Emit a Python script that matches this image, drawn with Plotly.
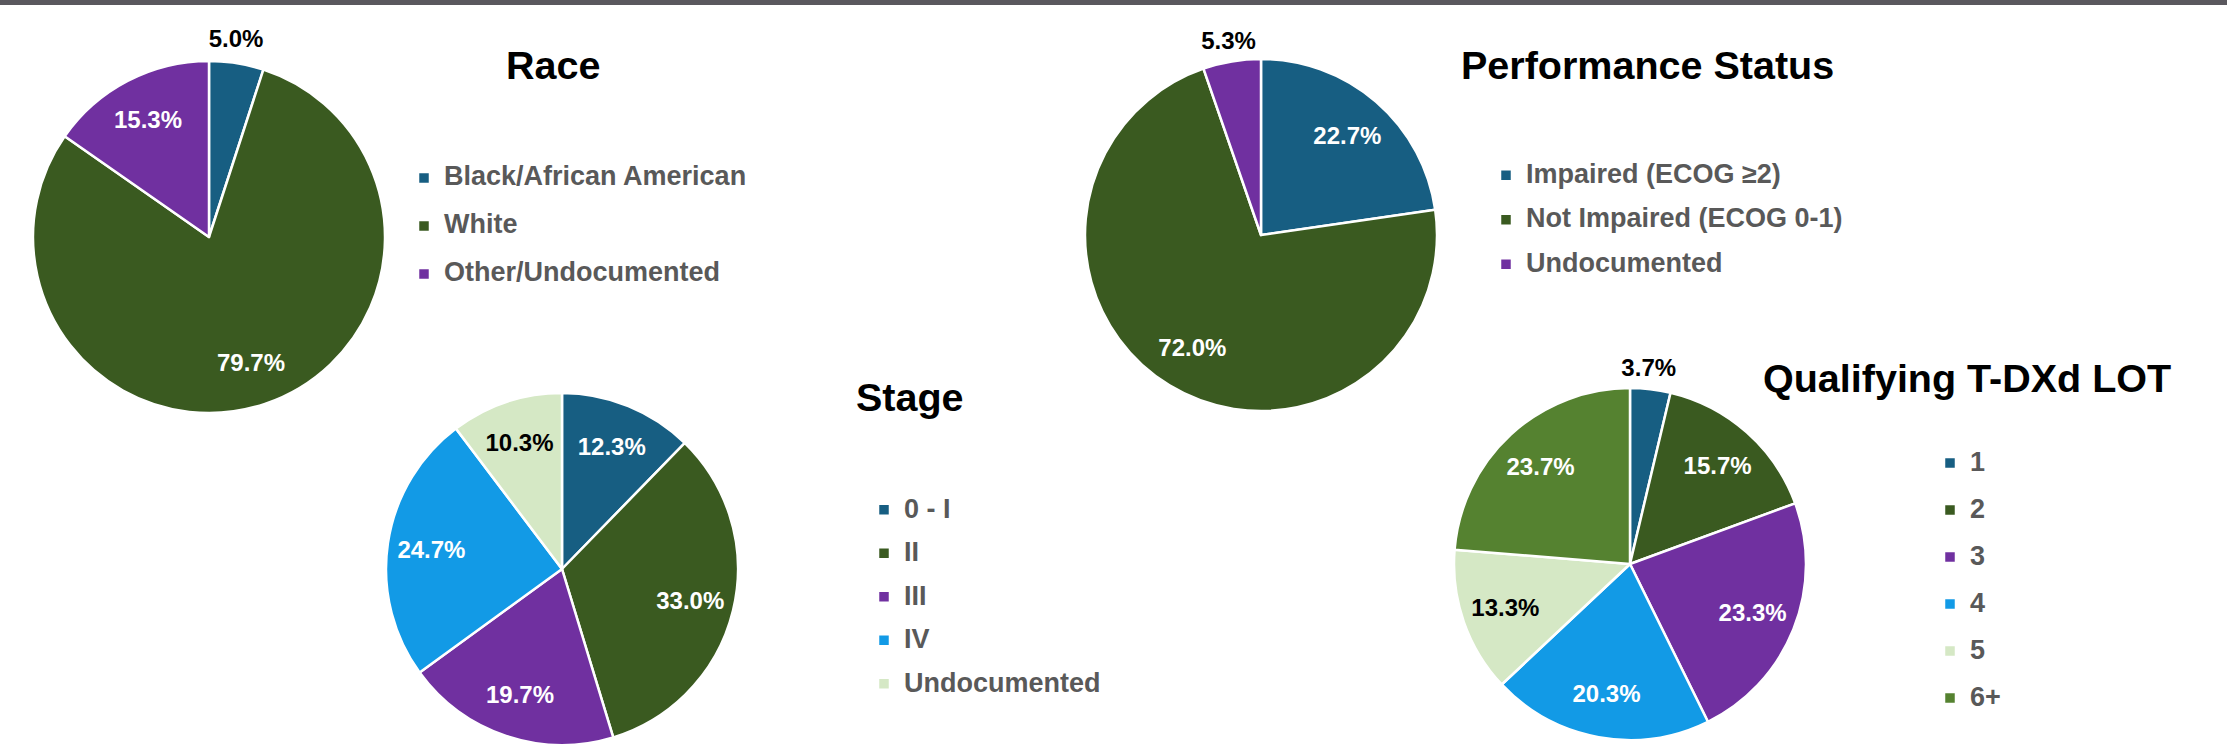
import plotly.graph_objects as go

# ---------------- data ----------------
race_labels = ["Black/African American", "White", "Other/Undocumented"]
race_values = [5.0, 79.7, 15.3]

perf_labels = ["Impaired (ECOG ≥2)", "Not Impaired (ECOG 0-1)", "Undocumented"]
perf_values = [22.7, 72.0, 5.3]

stage_labels = ["0 - I", "II", "III", "IV", "Undocumented"]
stage_values = [12.3, 33.0, 19.7, 24.7, 10.3]

lot_labels = ["1", "2", "3", "4", "5", "6+"]
lot_values = [3.7, 15.7, 23.3, 20.3, 13.3, 23.7]

titles = ["Race", "Performance Status", "Stage", "Qualifying T-DXd LOT"]

# ---------------- style ----------------
W, H = 2227, 752
BLUE = "#175E82"
DKGREEN = "#3A5A20"
PURPLE = "#7030A0"
LTBLUE = "#129AE6"
LTGREEN = "#D5E8C5"
GREEN = "#558230"
CLEAR = "rgba(0,0,0,0)"
FONT = "Liberation Sans, Arial, sans-serif"
LEG_COLOR = "#595959"
LABEL_SIZE = 24
LEG_TEXT = 27
TITLE_SIZE = 39.5
R = 176


def px_domain(cx, cy, r):
    return dict(x=[(cx - r) / W, (cx + r) / W],
                y=[(H - cy - r) / H, (H - cy + r) / H])


def legend_names(labels, shift):
    return [f'<span style="font-size:{LEG_TEXT}px;baseline-shift:{shift:.1f}px">{l}</span>'
            for l in labels]


# "in" = label inside slice, "out" = label above the pie (small slices)
pies = [
    dict(labels=race_labels, values=race_values,
         colors=[BLUE, DKGREEN, PURPLE],
         pos=["out", "in", "in"],
         tcol=["#000000", "#FFFFFF", "#FFFFFF"],
         center=(209, 237), outer=(209, 209, 200),
         legend="legend", legfs=34.6, leg=(404, 149)),
    dict(labels=perf_labels, values=perf_values,
         colors=[BLUE, DKGREEN, PURPLE],
         pos=["in", "in", "out"],
         tcol=["#FFFFFF", "#FFFFFF", "#000000"],
         center=(1261, 235), outer=(1261, 233, 228),
         legend="legend2", legfs=31.9, leg=(1486, 148)),
    dict(labels=stage_labels, values=stage_values,
         colors=[BLUE, DKGREEN, PURPLE, LTBLUE, LTGREEN],
         pos=["in"] * 5,
         tcol=["#FFFFFF", "#FFFFFF", "#FFFFFF", "#FFFFFF", "#000000"],
         center=(562, 569), outer=None,
         legend="legend3", legfs=31.15, leg=(864, 483)),
    dict(labels=lot_labels, values=lot_values,
         colors=[BLUE, DKGREEN, PURPLE, LTBLUE, LTGREEN, GREEN],
         pos=["out"] + ["in"] * 5,
         tcol=["#000000", "#FFFFFF", "#FFFFFF", "#FFFFFF", "#000000", "#FFFFFF"],
         center=(1630, 564), outer=(1630, 528, 180),
         legend="legend4", legfs=33.85, leg=(1930, 434.5)),
]

fig = go.Figure()
layout_legends = {}
for p in pies:
    shift = 0.39 * p["legfs"] - 7.7
    dom = px_domain(p["center"][0], p["center"][1], R)
    n = len(p["values"])
    # visible pie with legend
    fig.add_trace(go.Pie(
        labels=legend_names(p["labels"], shift),
        values=p["values"],
        sort=False, direction="clockwise", rotation=0,
        domain=dom,
        marker=dict(colors=p["colors"], line=dict(color="#FFFFFF", width=2.5)),
        textinfo="none",
        legend=p["legend"],
        hoverinfo="skip",
        showlegend=True,
    ))
    # label layer for the slices labelled inside
    fig.add_trace(go.Pie(
        labels=p["labels"], values=p["values"],
        sort=False, direction="clockwise", rotation=0,
        domain=dom, hole=0.5,
        marker=dict(colors=[CLEAR] * n, line=dict(width=0)),
        texttemplate="%{percent:.1%}",
        textposition=["inside" if s == "in" else "none" for s in p["pos"]],
        insidetextorientation="horizontal",
        textfont=dict(family=FONT, size=LABEL_SIZE, color=p["tcol"], weight="bold"),
        hoverinfo="skip", showlegend=False,
    ))
    # label layer for the small slices labelled above the pie
    if p["outer"] is not None:
        ox, oy, orad = p["outer"]
        fig.add_trace(go.Pie(
            labels=p["labels"], values=p["values"],
            sort=False, direction="clockwise", rotation=0,
            domain=px_domain(ox, oy, orad),
            marker=dict(colors=[CLEAR] * n, line=dict(width=0)),
            texttemplate="%{percent:.1%}",
            textposition=["inside" if s == "out" else "none" for s in p["pos"]],
            insidetextorientation="horizontal",
            textfont=dict(family=FONT, size=LABEL_SIZE, color=p["tcol"], weight="bold"),
            hoverinfo="skip", showlegend=False,
        ))
    layout_legends[p["legend"]] = dict(
        x=p["leg"][0] / W, y=1 - p["leg"][1] / H,
        xanchor="left", yanchor="top",
        bgcolor="rgba(0,0,0,0)", borderwidth=0,
        font=dict(family=FONT, size=p["legfs"], color=LEG_COLOR, weight="bold"),
        traceorder="normal",
    )

title_pos = [(553, 65), (1647, 65), (910, 397), (1967, 378)]
annotations = [
    dict(text=t, x=xp / W, y=1 - yp / H, xref="paper", yref="paper",
         xanchor="center", yanchor="middle", showarrow=False,
         font=dict(family=FONT, size=TITLE_SIZE, color="#000000", weight="bold"))
    for t, (xp, yp) in zip(titles, title_pos)
]

fig.update_layout(
    width=W, height=H,
    margin=dict(l=0, r=0, t=0, b=0),
    paper_bgcolor="#FFFFFF", plot_bgcolor="#FFFFFF",
    showlegend=True,
    uniformtext=dict(mode="show", minsize=LABEL_SIZE),
    annotations=annotations,
    shapes=[dict(type="rect", xref="paper", yref="paper",
                 x0=0, x1=1, y0=1 - 5 / H, y1=1,
                 fillcolor="#5A585E", line=dict(width=0), layer="above")],
    **layout_legends,
)

fig.write_html("out.html")
